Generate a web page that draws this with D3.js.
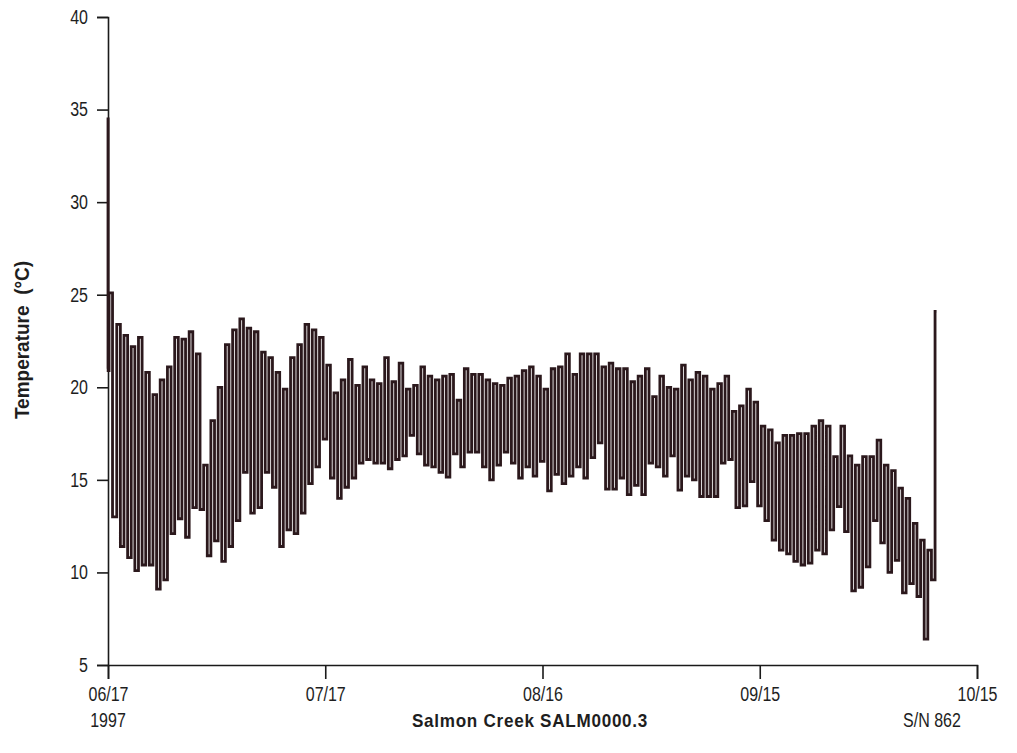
<!DOCTYPE html>
<html>
<head>
<meta charset="utf-8">
<script src="https://cdn.jsdelivr.net/npm/d3@7"></script>
<style>
  body { margin: 0; background: #fff; }
  svg text { font-family: "Liberation Sans", Arial, sans-serif; fill: #1e1e1e; }
</style>
</head>
<body>
<div id="chart"></div>
<script>
/* CONSTANTS AND GLOBALS */
const width = 1017,
  height = 753,
  margin = {top: 17, bottom: 88, left: 108, right: 40};

/* DATA */
// logger start: 06/17/1997, hours after start for the first few readings (logger in air, then in water)
const startHours = [0, 0.5, 1.5, 6];
const startVals = [21.0, 34.5, 20.9, 25.1];

// daily minimum (early morning) and maximum (afternoon), days 1..114 after start
const dailyMin = [
  13.0, 11.4, 10.8, 10.1, 10.4, 10.4, 9.1, 9.6, 12.1, 12.9, 11.9, 13.5, 13.4, 10.9, 11.7, 10.6, 11.4, 12.8, 15.4,
  13.2, 13.5, 15.4, 14.6, 11.4, 12.3, 12.1, 13.2, 14.8, 15.7, 17.2, 15.1, 14.0, 14.6, 15.1, 15.9, 16.1, 15.9, 15.9,
  15.6, 16.1, 16.3, 17.4, 16.4, 15.8, 15.7, 15.4, 15.15, 16.4, 15.7, 16.5, 16.5, 15.7, 15.0, 15.8, 16.5, 15.9, 15.1,
  15.7, 15.2, 16.0, 14.4, 15.3, 14.8, 15.2, 15.7, 15.1, 16.2, 17.0, 14.5, 14.5, 15.1, 14.2, 14.7, 14.2, 15.9, 15.7, 15.2,
  16.3, 14.45, 15.2, 15.0, 14.1, 14.1, 14.1, 15.9, 16.1, 13.5, 13.6, 14.9, 13.6, 12.8, 11.75, 11.2, 11.0, 10.6, 10.4,
  10.5, 11.2, 11.0, 12.3, 13.55, 12.2, 9.0, 9.2, 10.3, 12.8, 11.6, 10.0, 10.65, 8.9, 9.4, 8.7, 6.4, 9.6
];
const dailyMax = [
  23.4, 22.8, 22.2, 22.7, 20.8, 19.6, 20.4, 21.1, 22.7, 22.6, 23.0, 21.8, 15.8, 18.2, 20.0, 22.3, 23.1, 23.7, 23.2,
  23.0, 21.9, 21.6, 20.8, 19.9, 21.6, 22.3, 23.4, 23.1, 22.7, 21.2, 19.7, 20.4, 21.5, 20.1, 21.1, 20.4, 20.2, 21.6,
  20.3, 21.3, 19.9, 20.1, 21.1, 20.6, 20.4, 20.6, 20.7, 19.3, 21.0, 20.7, 20.7, 20.4, 20.2, 20.1, 20.5, 20.6, 20.9,
  21.1, 20.6, 19.9, 21.0, 21.1, 21.8, 20.7, 21.8, 21.8, 21.8, 21.1, 21.3, 21.0, 21.0, 20.3, 20.6, 21.0, 19.5, 20.6, 20.0,
  19.9, 21.2, 20.4, 20.8, 20.6, 19.9, 20.2, 20.6, 18.7, 19.0, 19.9, 19.2, 17.9, 17.7, 17.0, 17.4, 17.4, 17.5, 17.5,
  17.9, 18.2, 17.9, 16.25, 17.9, 16.3, 15.8, 16.25, 16.25, 17.15, 15.8, 15.5, 14.55, 14.0, 12.65, 11.75, 11.2, 24.1
];
const minHour = 0, maxHour = 10;   // time of day of the min / max reading

const yTicks = [5, 10, 15, 20, 25, 30, 35, 40];
const xTickLabels = ["06/17", "07/17", "08/16", "09/15", "10/15"];
const startDate = new Date(1997, 5, 17);
const endDate = new Date(1997, 9, 15);

// build the series
let series = startHours.map((h, i) => ({t: d3.timeHour.offset(startDate, h), v: startVals[i]}));
dailyMin.forEach((m, i) => {
  const day = d3.timeDay.offset(startDate, i + 1);
  series.push({t: d3.timeHour.offset(day, minHour), v: m});
  series.push({t: d3.timeHour.offset(day, maxHour), v: dailyMax[i]});
});

// squeeze text horizontally, the original uses a narrow font
function condense(sel, k) {
  sel.each(function () {
    const w = this.getComputedTextLength();
    d3.select(this).attr("textLength", w * k).attr("lengthAdjust", "spacingAndGlyphs");
  });
}

/* SCALES */
const xScale = d3.scaleTime()
  .domain([startDate, endDate])
  .range([margin.left, 977]);

const yScale = d3.scaleLinear()
  .domain([5, 40])
  .range([height - margin.bottom, margin.top]);

const svg = d3.select("#chart")
  .append("svg")
  .attr("width", width)
  .attr("height", height);

/* AXES */
const parseTick = d3.timeParse("%m/%d/%Y");
const xAxis = d3.axisBottom(xScale)
  .tickValues(xTickLabels.map(s => parseTick(s + "/1997")))
  .tickFormat(d3.timeFormat("%m/%d"))
  .tickSize(14)
  .tickPadding(8);

const yAxis = d3.axisLeft(yScale)
  .tickValues(yTicks)
  .tickSize(11)
  .tickPadding(9);

const xAxisGroup = svg.append("g")
  .attr("class", "xAxis")
  .attr("transform", `translate(0,${height - margin.bottom})`)
  .call(xAxis);

const yAxisGroup = svg.append("g")
  .attr("class", "yAxis")
  .attr("transform", `translate(${margin.left},0)`)
  .call(yAxis);

svg.selectAll(".xAxis path, .yAxis path, .xAxis line, .yAxis line")
  .attr("stroke", "#1a1a1a")
  .attr("stroke-width", 1.6);
svg.selectAll(".xAxis text, .yAxis text")
  .attr("font-size", 20)
  .attr("font-family", null)
  .call(condense, 0.8);

/* LINE */
const lineGen = d3.line()
  .curve(d3.curveStep)
  .x(d => xScale(d.t))
  .y(d => yScale(d.v));

svg.append("path")
  .datum(series)
  .attr("class", "line")
  .attr("fill", "none")
  .attr("stroke", "#2b181c")
  .attr("stroke-width", 2.8)
  .attr("d", lineGen);

/* LABELS */
svg.append("text")
  .attr("transform", "translate(29,340) rotate(-90)")
  .attr("text-anchor", "middle")
  .attr("font-size", 20)
  .attr("font-weight", "bold")
  .style("white-space", "pre")
  .text("Temperature  (°C)")
  .call(condense, 0.95);

svg.append("text")
  .attr("x", xScale(startDate))
  .attr("y", 727)
  .attr("text-anchor", "middle")
  .attr("font-size", 20)
  .text("1997")
  .call(condense, 0.8);

svg.append("text")
  .attr("x", 530)
  .attr("y", 727)
  .attr("text-anchor", "middle")
  .attr("font-size", 19)
  .attr("font-weight", "bold")
  .attr("letter-spacing", 0.8)
  .text("Salmon Creek SALM0000.3")
  .call(condense, 0.9);

svg.append("text")
  .attr("x", 932)
  .attr("y", 727)
  .attr("text-anchor", "middle")
  .attr("font-size", 20)
  .text("S/N 862")
  .call(condense, 0.8);
</script>
</body>
</html>
